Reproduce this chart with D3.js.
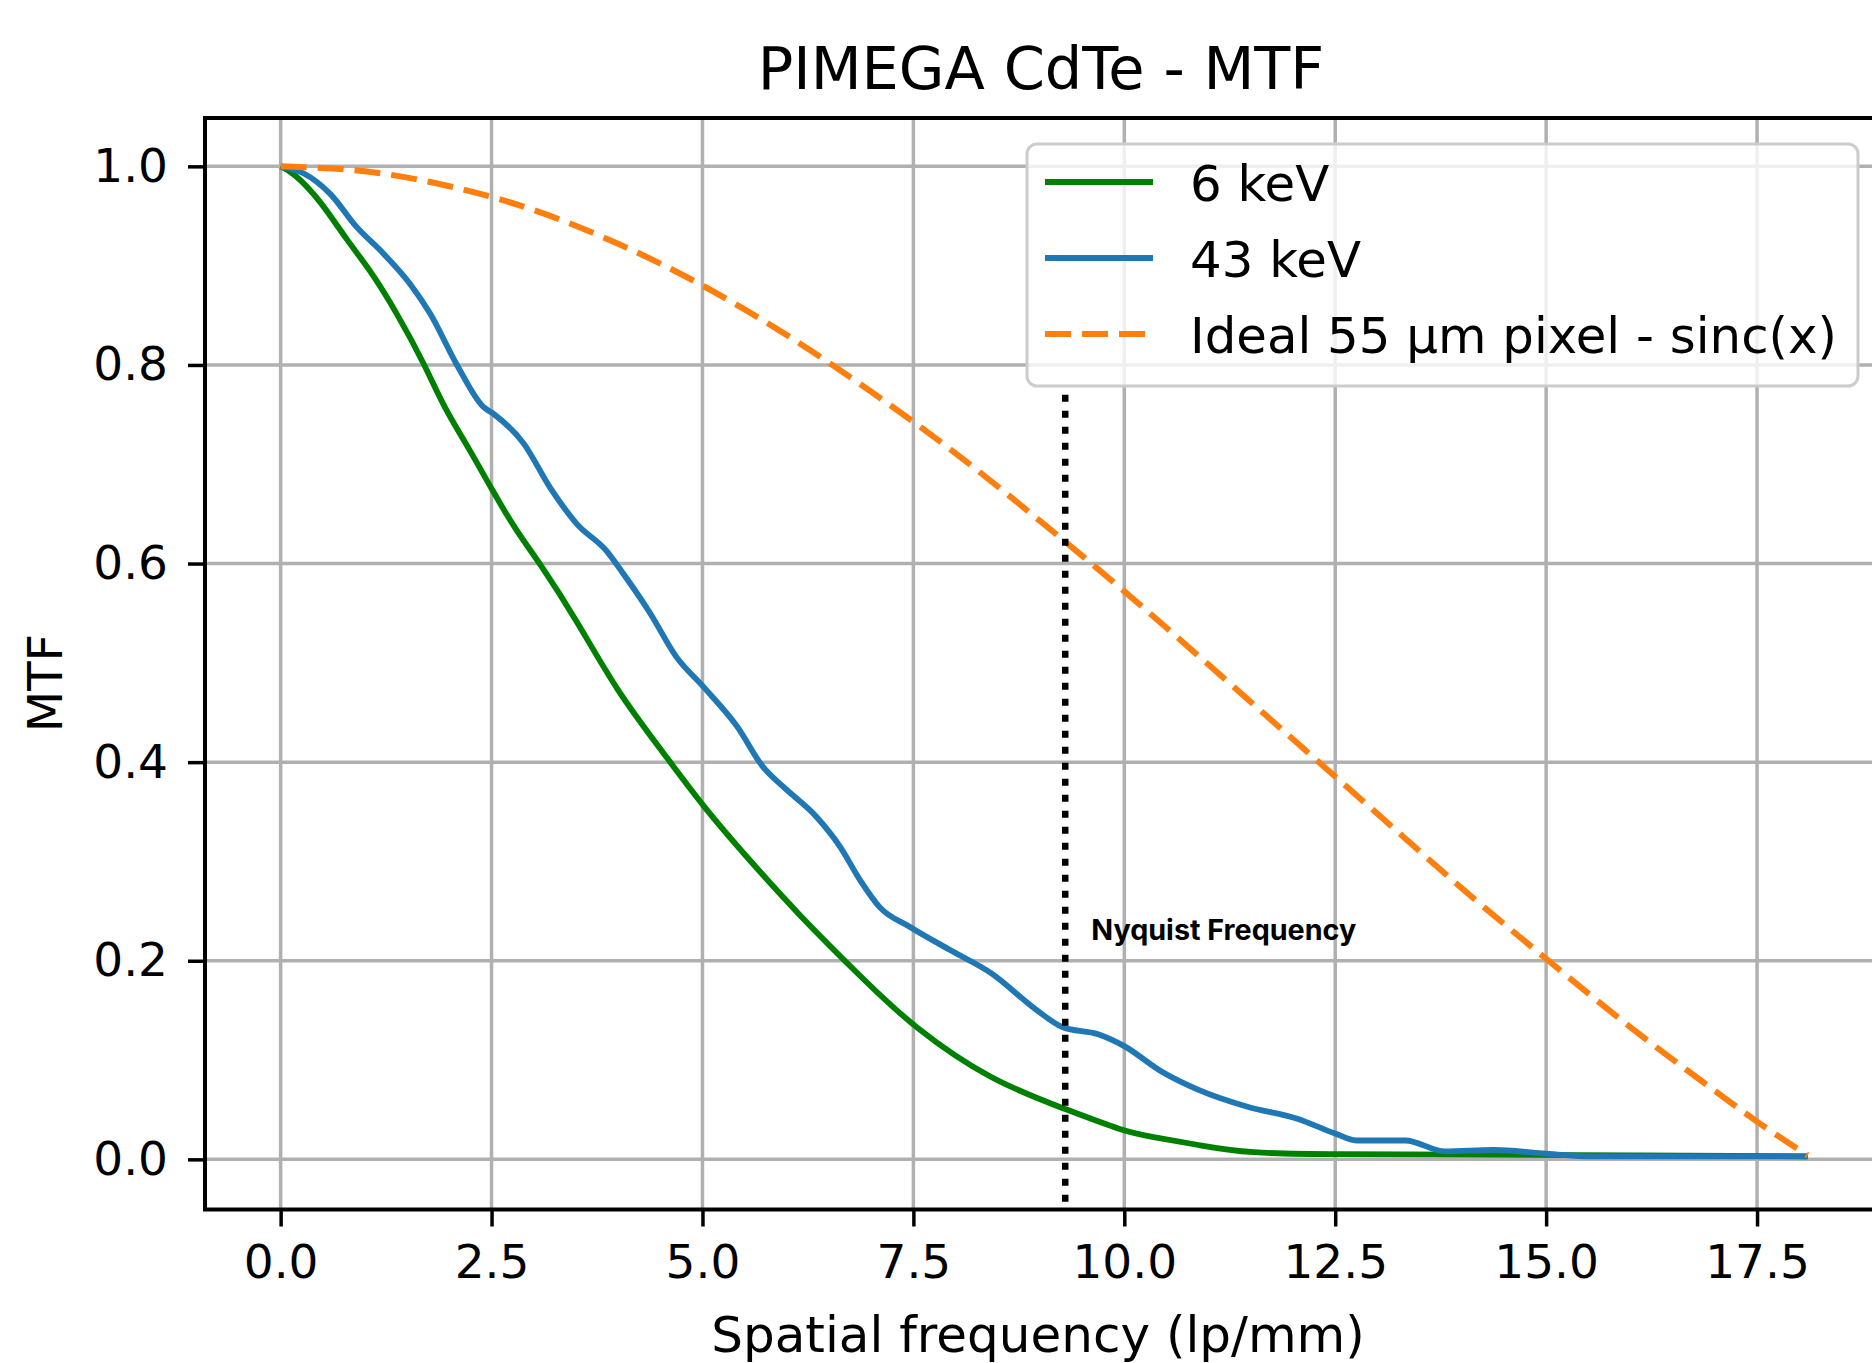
<!DOCTYPE html>
<html><head><meta charset="utf-8">
<script src="https://cdn.jsdelivr.net/npm/d3@7"></script>
<style>html,body{margin:0;padding:0;background:#fff;overflow:hidden}</style>
</head><body>
<svg id="chart" width="1872" height="1363"></svg>
<script>
// ---- data ----
const freq6 = [0,0.15,0.47,0.78,1.06,1.38,1.71,1.93,2.24,2.52,2.80,3.06,3.51,3.98,4.54,5.01,5.56,6.12,6.91,7.5,8.42,9.32,10.0,10.3,10.88,11.46,12.5,14,16,18.1];
const mtf6  = [1.0,0.994,0.966,0.926,0.896,0.852,0.800,0.758,0.715,0.672,0.632,0.602,0.543,0.472,0.409,0.355,0.301,0.248,0.181,0.133,0.079,0.050,0.028,0.023,0.0144,0.006,0.005,0.005,0.004,0.003];
const freq43 = [0,0.27,0.59,0.90,1.22,1.53,1.77,2.09,2.40,2.52,2.88,3.19,3.51,3.86,4.06,4.38,4.69,5.01,5.41,5.72,5.96,6.35,6.63,6.87,7.10,7.46,7.93,8.43,8.95,9.27,9.69,10.0,10.43,10.88,11.46,12.05,12.5,12.75,13.33,13.8,14.38,14.96,15.55,18.1];
const mtf43  = [1.0,0.993,0.972,0.939,0.912,0.882,0.852,0.800,0.758,0.751,0.721,0.677,0.640,0.613,0.590,0.550,0.506,0.476,0.436,0.395,0.375,0.345,0.315,0.281,0.254,0.234,0.211,0.187,0.151,0.133,0.126,0.114,0.089,0.070,0.053,0.041,0.026,0.019,0.019,0.008,0.0094,0.006,0.003,0.003];
const freqSinc = [0,1,2,3,4,5,6,7,8,9,10,11,12,13,14,15,16,17,17.5,18.1];
const mtfSinc  = [1.0,0.995,0.980,0.956,0.922,0.880,0.830,0.773,0.711,0.643,0.572,0.498,0.423,0.348,0.273,0.202,0.133,0.069,0.038,0.004];
const nyquist = 9.3;
const nyquistSpan = [-0.045, 0.77];
const xTicks = [0,2.5,5,7.5,10,12.5,15,17.5];
const yTicks = [0,0.2,0.4,0.6,0.8,1.0];
const seriesNames = ["6 keV","43 keV","Ideal 55 µm pixel - sinc(x)"];
const titleText = "PIMEGA CdTe - MTF";
const xLabel = "Spatial frequency (lp/mm)";
const yLabel = "MTF";
const nyqLabel = "Nyquist Frequency";

// ---- layout ----
const svg = d3.select("#chart");
const L = 205, T = 118, B = 1209.5, R = 1884;
const x = d3.scaleLinear().domain([-0.9, 19.0]).range([204.7, 1883.6]);
const y = d3.scaleLinear().domain([-0.05, 1.05]).range([1209, 116.7]);
const font = "DejaVu Sans";

svg.append("rect").attr("width",1872).attr("height",1363).attr("fill","#fff");

const defs = svg.append("defs");
defs.append("clipPath").attr("id","clip").append("rect")
  .attr("x",L).attr("y",T).attr("width",R-L).attr("height",B-T);

// grid
const grid = svg.append("g").attr("clip-path","url(#clip)");
grid.selectAll(".vg").data(xTicks).join("line")
  .attr("x1",d=>x(d)).attr("x2",d=>x(d)).attr("y1",T).attr("y2",B)
  .attr("stroke","#b0b0b0").attr("stroke-width",3.5);
grid.selectAll(".hg").data(yTicks).join("line")
  .attr("y1",d=>y(d)).attr("y2",d=>y(d)).attr("x1",L).attr("x2",R)
  .attr("stroke","#b0b0b0").attr("stroke-width",3.5);

// lines
const plot = svg.append("g").attr("clip-path","url(#clip)");
const lineSmooth = d3.line().x(d=>x(d[0])).y(d=>y(d[1])).curve(d3.curveBasis);
const line = d3.line().x(d=>x(d[0])).y(d=>y(d[1])).curve(d3.curveMonotoneX);
const d6 = freq6.map((f,i)=>[f,mtf6[i]]);
const d43 = freq43.map((f,i)=>[f,mtf43[i]]);
const dS = freqSinc.map((f,i)=>[f,mtfSinc[i]]);
plot.append("path").attr("d",lineSmooth(d6)).attr("fill","none").attr("stroke","#008000").attr("stroke-width",5.8).attr("stroke-linejoin","round");
plot.append("path").attr("d",line(d43)).attr("fill","none").attr("stroke","#1f77b4").attr("stroke-width",5.8).attr("stroke-linejoin","round");
plot.append("path").attr("d",line(dS)).attr("fill","none").attr("stroke","#ff7f0e").attr("stroke-width",6).attr("stroke-dasharray","26,11");

// nyquist
plot.append("line").attr("x1",x(nyquist)).attr("x2",x(nyquist))
  .attr("y1",y(nyquistSpan[1])).attr("y2",y(nyquistSpan[0]))
  .attr("stroke","#000").attr("stroke-width",6.5).attr("stroke-dasharray","7,9");
svg.append("text").attr("x",x(nyquist)+26).attr("y",y(0.22)-1)
  .attr("font-family","Inter").attr("font-weight",700).attr("font-size",28)
  .attr("textLength",265).attr("lengthAdjust","spacingAndGlyphs")
  .attr("fill","#000").text(nyqLabel);

// frame
svg.append("rect").attr("x",L).attr("y",T).attr("width",R-L).attr("height",B-T)
  .attr("fill","none").attr("stroke","#000").attr("stroke-width",4);

// axes
const xAxis = svg.append("g").attr("transform",`translate(0,${B})`)
  .call(d3.axisBottom(x).tickValues(xTicks).tickFormat(d3.format(".1f")).tickSize(17).tickPadding(18));
xAxis.select(".domain").remove();
xAxis.selectAll(".tick line").attr("stroke","#000").attr("stroke-width",3.5);
xAxis.selectAll(".tick text").attr("font-family",font).attr("font-size",47).attr("fill","#000");

const yAxis = svg.append("g").attr("transform",`translate(${L},0)`)
  .call(d3.axisLeft(y).tickValues(yTicks).tickFormat(d3.format(".1f")).tickSize(17).tickPadding(20));
yAxis.select(".domain").remove();
yAxis.selectAll(".tick line").attr("stroke","#000").attr("stroke-width",3.5);
yAxis.selectAll(".tick text").attr("font-family",font).attr("font-size",47).attr("fill","#000");

// labels
svg.append("text").attr("x",1041).attr("y",89).attr("text-anchor","middle")
  .attr("font-family",font).attr("font-size",59).attr("fill","#000").text(titleText);
svg.append("text").attr("x",1038).attr("y",1352).attr("text-anchor","middle")
  .attr("font-family",font).attr("font-size",50).attr("fill","#000").text(xLabel);
svg.append("text").attr("transform","translate(62,683) rotate(-90)").attr("text-anchor","middle")
  .attr("font-family",font).attr("font-size",48).attr("fill","#000").text(yLabel);

// legend
const lg = svg.append("g");
lg.append("rect").attr("x",1027).attr("y",144).attr("width",831).attr("height",242).attr("rx",10)
  .attr("fill","#fff").attr("fill-opacity",0.8).attr("stroke","#cccccc").attr("stroke-width",3);
const lgColors = ["#008000","#1f77b4","#ff7f0e"];
const lgDash = [null,null,"26,11"];
const lgY = [182,258,334];
seriesNames.forEach((n,i)=>{
  lg.append("line").attr("x1",1045).attr("x2",1153).attr("y1",lgY[i]).attr("y2",lgY[i])
    .attr("stroke",lgColors[i]).attr("stroke-width",6).attr("stroke-dasharray",lgDash[i]);
  lg.append("text").attr("x",1190).attr("y",lgY[i]+19)
    .attr("font-family",font).attr("font-size",49.8).attr("fill","#000").text(n);
});
</script>
</body></html>
